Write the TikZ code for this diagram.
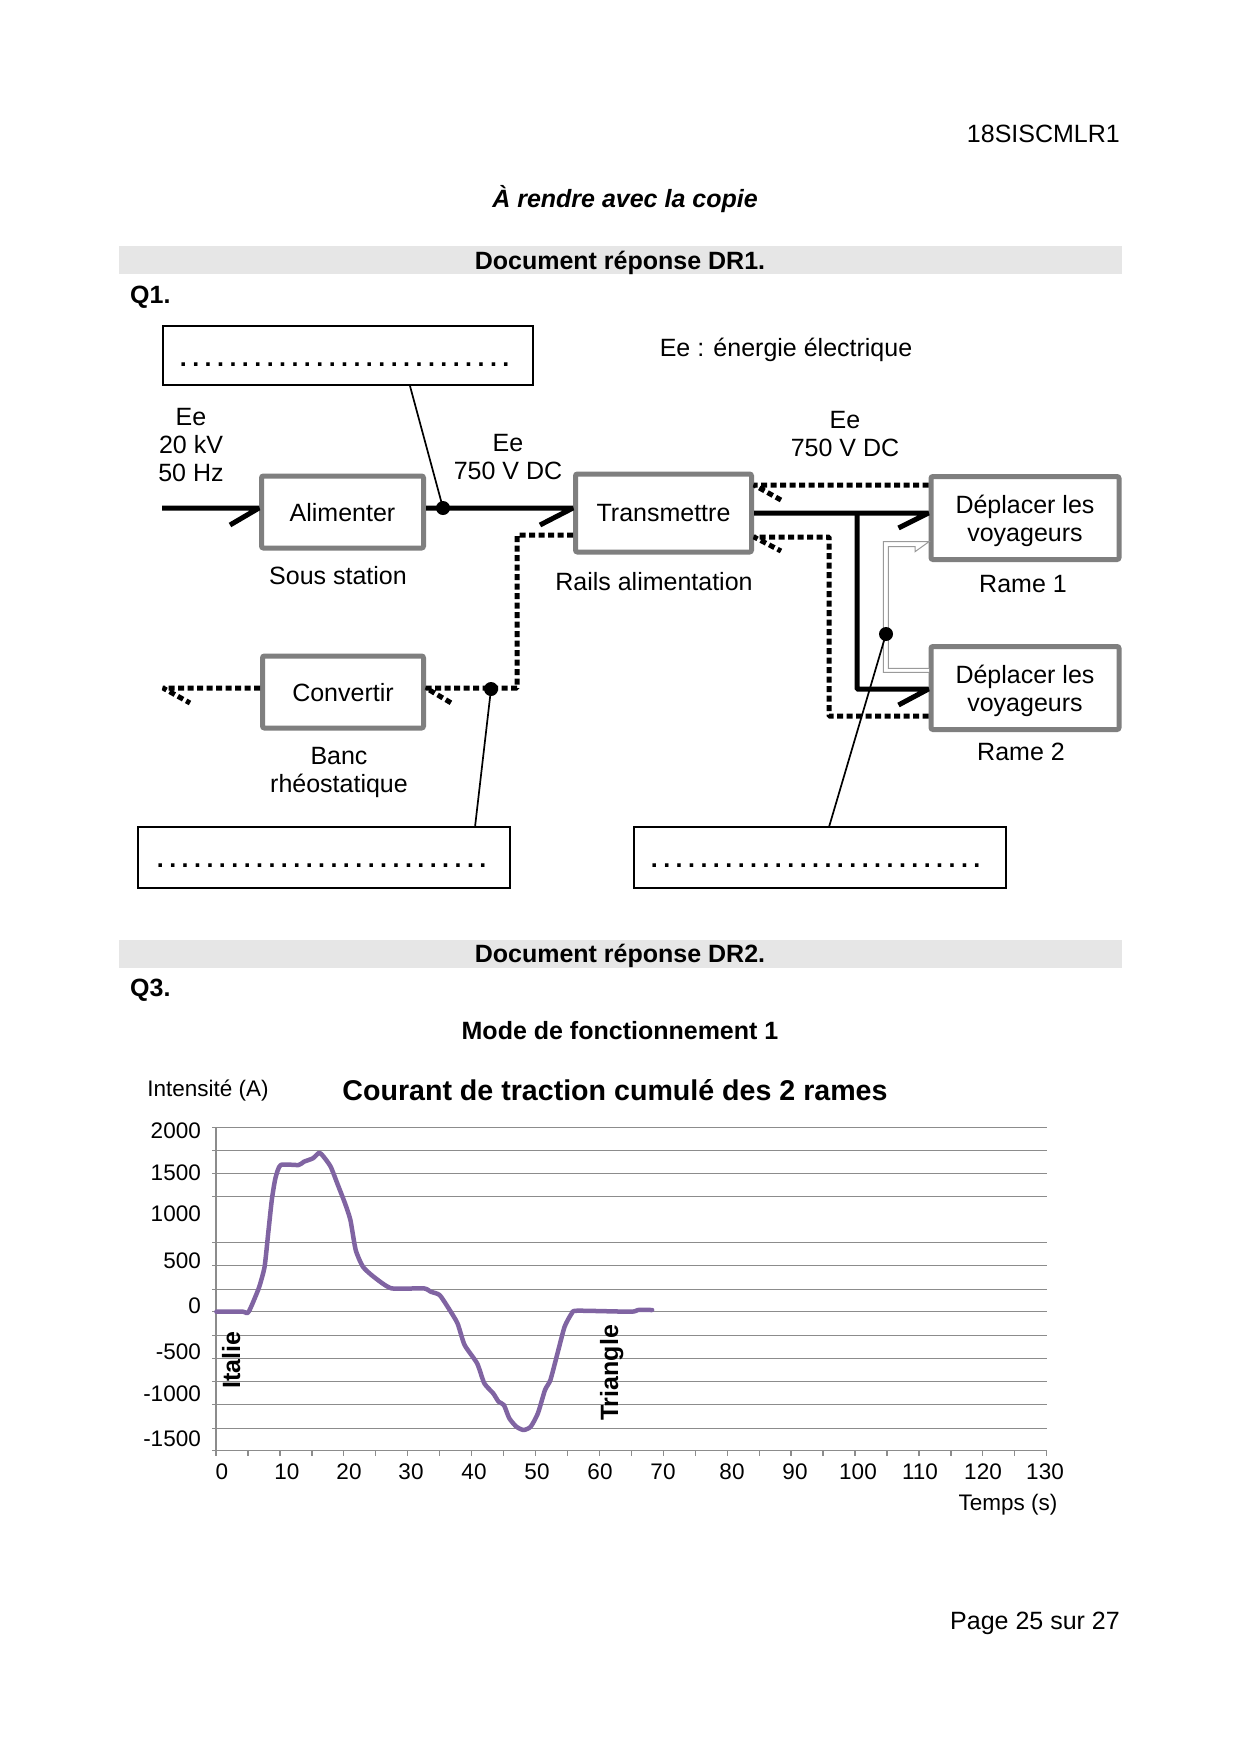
\documentclass[tikz,border=0pt]{standalone}
\usepackage{fontspec}
\setmainfont{Liberation Sans}
\definecolor{boxgray}{HTML}{7F7F7F}
\definecolor{bandgray}{HTML}{E6E6E6}
\definecolor{gridgray}{HTML}{8C8C8C}
\definecolor{curvepurple}{HTML}{8064A2}
\definecolor{hollowgray}{HTML}{9A9A9A}
\newcommand\pdot{\makebox[12.4pt]{.}}
\newcommand\pdotrow{\pdot\pdot\pdot\pdot\pdot\pdot\pdot\pdot\pdot\pdot\pdot\pdot\pdot\pdot\pdot\pdot\pdot\pdot\pdot\pdot\pdot\pdot\pdot\pdot\pdot\pdot\pdot}
\begin{document}
\begin{tikzpicture}[x=1pt,y=-1pt,
  ftxt/.style={font=\fontsize{25}{28}\selectfont, inner sep=0pt, align=center, text depth=0pt},
  fbold/.style={font=\fontsize{25}{28}\selectfont\bfseries, inner sep=0pt, align=center, text depth=0pt},
  fsmall/.style={font=\fontsize{22.5}{26}\selectfont, inner sep=0pt, text depth=0pt},
  fdots/.style={font=\fontsize{25}{28}\selectfont\bfseries, inner sep=0pt, anchor=base west},
  fbox/.style={draw=boxgray, line width=5pt, rounded corners=2pt, fill=white, inner sep=0pt,
    font=\fontsize{25}{28}\selectfont, align=center, text depth=0pt},
  ansbox/.style={draw=black, line width=2pt, inner sep=0pt, fill=white},
  band/.style={fill=bandgray, minimum width=1003pt, minimum height=28pt, inner sep=0pt,
    font=\fontsize{25}{28}\selectfont\bfseries, text depth=0pt},
  flow/.style={line width=5pt, line join=bevel},
  lossflow/.style={line width=5pt, line join=bevel, dash pattern=on 6pt off 3.5pt},
  pointer/.style={line width=1.7pt},
  junction/.style={circle, fill=black, inner sep=0pt, minimum size=14pt},
  hollow/.style={draw=hollowgray, line width=1pt, fill=white},
  gridline/.style={draw=gridgray, line width=1.3pt},
  curve/.style={draw=curvepurple, line width=4.5pt, line join=round, line cap=round}
]
\useasboundingbox (0,0) rectangle (1240,1754);
\fill[white] (0,0) rectangle (1240,1754);

% ---------- header ----------
\node[ftxt, anchor=east] (code) at (1120,134) {18SISCMLR1};
\node[font=\fontsize{25}{28}\selectfont\bfseries\itshape, inner sep=0pt, text depth=0pt] (rendre) at (625,196) {À rendre avec la copie};
\node[band] (dr1) at (620,260) {Document réponse DR1.};
\node[fbold, anchor=west] (q1) at (130,295) {Q1.};

% ---------- DR1 diagram ----------
\node[ansbox, minimum width=370pt, minimum height=59pt] (topbox) at (348,355.5) {};
\node[fdots] (topdots) at (177,366) {\pdotrow};
\node[ftxt] (legend) at (786,347) {Ee : énergie électrique};

\node[ftxt] (ein) at (191,445) {Ee\\20 kV\\50 Hz};
\node[ftxt] (eac) at (508,456.5) {Ee\\750 V DC};
\node[ftxt] (edc) at (845,434) {Ee\\750 V DC};

\node[fbox, minimum width=162pt, minimum height=72pt] (alim) at (342.5,512) {Alimenter};
\node[ftxt] (alimlbl) at (338,575) {Sous station};
\node[fbox, minimum width=176pt, minimum height=78pt] (trans) at (663.5,513) {Transmettre};
\node[ftxt] (translbl) at (654,581) {Rails alimentation};
\node[fbox, minimum width=188pt, minimum height=83pt] (rame1) at (1025,518) {Déplacer les\\voyageurs};
\node[ftxt] (rame1lbl) at (1023,584) {Rame 1};
\node[fbox, minimum width=188pt, minimum height=83pt] (rame2) at (1025,688) {Déplacer les\\voyageurs};
\node[ftxt] (rame2lbl) at (1021,752) {Rame 2};
\node[fbox, minimum width=161pt, minimum height=72pt] (conv) at (343,692) {Convertir};
\node[ftxt] (convlbl) at (339,769.5) {Banc\\rhéostatique};

\node[ansbox, minimum width=372pt, minimum height=61pt] (ansL) at (324,857.5) {};
\node[fdots] (ansLdots) at (154,867) {\pdotrow};
\node[ansbox, minimum width=372pt, minimum height=61pt] (ansR) at (820,857.5) {};
\node[fdots] (ansRdots) at (648,867) {\pdotrow};

% helper coordinates
\coordinate (inL) at (162,508);
\coordinate (jT) at (857,513);
\coordinate (jTb) at (857,689);
\coordinate (dU) at (800,485);
\coordinate (dL1) at (829,537);
\coordinate (dL2) at (829,716);
\coordinate (dC1) at (517,535);
\coordinate (dC2) at (517,688);
\coordinate (outL) at (163,688);
\coordinate (pA) at (410,386);
\coordinate (pB) at (475,827);
\coordinate (pC) at (829,827);

% hollow arrow between the two trains
\draw[hollow] (929,672.3) -- (883.3,672.3) -- (883.3,541.7) -- (929,541.7) -- (915,551.7)
  -- (915,546.7) -- (888.3,546.7) -- (888.3,668.3) -- (929,668.3);

% solid energy flows
\draw[flow] (inL) -- (inL -| alim.west) -- ++(-29,17);
\draw[flow] (alim.east |- inL) -- (trans.west |- inL) -- ++(-33,17);
\draw[flow] (trans.east |- jT) -- (rame1.west |- jT) -- ++(-30,15);
\draw[flow] (jT) -- (jTb) -- (rame2.west |- jTb) -- ++(-30,16);

% dotted (braking) flows
\draw[lossflow] (rame1.west |- dU) -- (trans.east |- dU) -- ++(27,15);
\draw[lossflow] (rame2.west |- dL2) -- (dL2) -- (dL1) -- (trans.east |- dL1) -- ++(27,14);
\draw[lossflow] (trans.west |- dC1) -- (dC1) -- (dC2) -- (conv.east |- dC2) -- ++(27,16);
\draw[lossflow] (conv.west |- outL) -- (outL) -- ++(27,15);

% junctions and pointers
\node[junction] (jA) at (443,508) {};
\node[junction] (jB) at (491,689) {};
\node[junction] (jC) at (886,634) {};
\draw[pointer] (pA) -- (jA.center);
\draw[pointer] (pB) -- (jB.center);
\draw[pointer] (pC) -- (jC.center);

% ---------- DR2 ----------
\node[band] (dr2) at (620,953.5) {Document réponse DR2.};
\node[fbold, anchor=west] (q3) at (130,988) {Q3.};
\node[fbold] (mode) at (620,1030) {Mode de fonctionnement 1};
\node[fsmall] (ylab) at (208,1088) {Intensité (A)};
\node[font=\fontsize{28.6}{32}\selectfont\bfseries, inner sep=0pt, text depth=0pt] (ctitle) at (615,1090) {Courant de traction cumulé des 2 rames};

% grid
\foreach \gy in {1127.3,1150.3,1173.3,1196.3,1242.3,1265.3,1289.3,1311.3,1335.3,1358.3,1381.3,1404.3,1428.3}
  \draw[gridline] (212,\gy) -- (1047,\gy);
\draw[gridline] (212,1450.7) -- (1047,1450.7);
\draw[gridline] (216,1127.3) -- (216,1450.7);
\foreach \k in {0,...,26}
  \draw[gridline] ({216+31.95*\k},1450.7) -- ++(0,5);

% y labels
\foreach \v/\yy in {2000/1131,1500/1173,1000/1214,500/1261,0/1306,-500/1352,-1000/1394,-1500/1439}
  \node[fsmall, anchor=east] at (201,\yy) {\v};
% x labels
\foreach \v/\xx in {0/222,10/287,20/349,30/411,40/474,50/537,60/600,70/663,80/732,90/795,100/858,110/920,120/983,130/1045}
  \node[fsmall] at (\xx,1472) {\v};
\node[fsmall] (xlab) at (1008,1502) {Temps (s)};

% curve
\draw[curve] plot[smooth, tension=0.35] coordinates {
(216.4,1311.7) (243.2,1311.7) (246.8,1313.3) (249.3,1310.7) (254,1300) (259.3,1286.7)
(264.6,1266.7) (268.2,1233.3) (271.8,1200) (275.4,1178.3) (280.7,1165) (298.6,1165)
(303.9,1161.7) (312.9,1158.3) (319.3,1152.7) (323.6,1156.7) (330.7,1166.7) (337.9,1185)
(345,1203.3) (350.4,1220) (355.7,1250) (362.9,1266.7) (373.6,1276.7) (391.4,1288.3)
(423.6,1288.3) (430.7,1291.7) (439.6,1295) (448.6,1308.3) (457.5,1323.3) (464.6,1345)
(477.1,1363.3) (484.3,1383.3) (493.2,1393.3) (498.6,1401.7) (503.9,1405) (509.3,1418.3)
(516.4,1426.7) (523.6,1430) (530.7,1426.7) (537.9,1413.3) (545,1390) (550.4,1380)
(557.5,1353.3) (564.6,1326.7) (571.8,1313.3) (577.1,1310.7) (630.7,1311.7) (637.9,1310)
(652.1,1310)};

\node[fbold, rotate=90] (italie) at (231,1360) {Italie};
\node[fbold, rotate=90] (triangle) at (609,1373) {Triangle};

% footer
\node[ftxt, anchor=east] (page) at (1120,1621) {Page 25 sur 27};
\end{tikzpicture}
\end{document}
